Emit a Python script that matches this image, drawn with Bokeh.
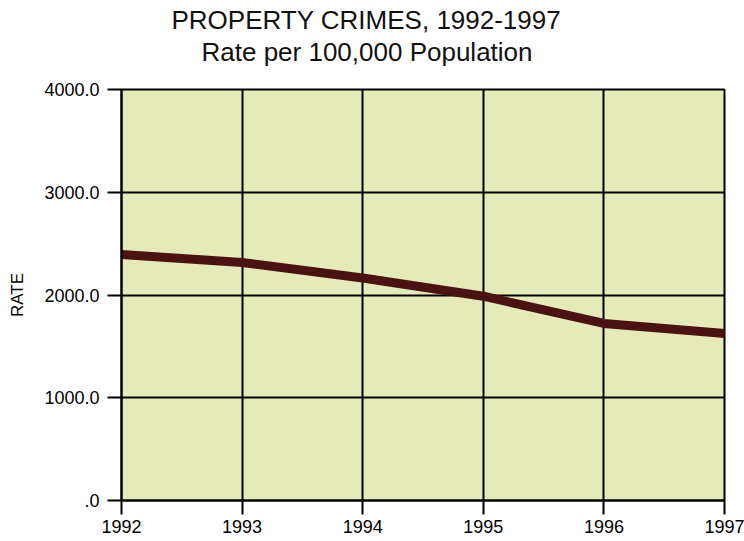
from bokeh.plotting import figure
from bokeh.models import Title, FixedTicker, Range1d
from bokeh.embed import file_html
from bokeh.resources import INLINE

# ---- data ----
years = [1992, 1993, 1994, 1995, 1996, 1997]
rates = [2395, 2316, 2165, 1988, 1723, 1625]
y_ticks = [0, 1000, 2000, 3000, 4000]
y_tick_labels = [".0", "1000.0", "2000.0", "3000.0", "4000.0"]
title_lines = ["PROPERTY CRIMES, 1992-1997", "Rate per 100,000 Population"]
y_label = "RATE"

FONT = "Liberation Sans"
BG = "#e4ebb9"
LINE = "#4a1212"

p = figure(width=744, height=541, output_backend="svg", toolbar_location=None,
           x_range=Range1d(1992, 1997), y_range=Range1d(0, 4000),
           min_border_left=121, min_border_right=20, min_border_top=89,
           min_border_bottom=41)
p.background_fill_color = BG
p.border_fill_color = "white"
p.outline_line_color = "black"
p.outline_line_width = 2

for ax in (p.xaxis, p.yaxis):
    ax.axis_line_color = "black"
    ax.axis_line_width = 2
    ax.major_tick_line_color = "black"
    ax.major_tick_line_width = 2
    ax.major_tick_in = 0
    ax.minor_tick_line_color = None
    ax.major_label_text_font = FONT
    ax.major_label_text_color = "black"

p.xaxis.ticker = FixedTicker(ticks=years)
p.xaxis.major_tick_out = 14
p.xaxis.major_label_standoff = 5
p.xaxis.major_label_text_font_size = "18px"

p.yaxis.ticker = FixedTicker(ticks=y_ticks)
p.yaxis.major_label_overrides = {t: l for t, l in zip(y_ticks, y_tick_labels)}
p.yaxis.major_tick_out = 14
p.yaxis.major_label_standoff = 8
p.yaxis.major_label_text_font_size = "18px"
p.yaxis.axis_label = y_label
p.yaxis.axis_label_text_font = FONT
p.yaxis.axis_label_text_color = "black"
p.yaxis.axis_label_text_font_style = "normal"
p.yaxis.axis_label_text_font_size = "17px"
p.yaxis.axis_label_standoff = 14

for g in (p.xgrid, p.ygrid):
    g.grid_line_color = "black"
    g.grid_line_width = 2
    g.grid_line_alpha = 1
p.xgrid.ticker = FixedTicker(ticks=years)
p.ygrid.ticker = FixedTicker(ticks=y_ticks)

p.line(years, rates, line_color=LINE, line_width=9, line_cap="square")

# titles: innermost (closest to frame) first
p.add_layout(Title(text=title_lines[1], align="left", offset=80, standoff=45,
                   text_font=FONT, text_font_size="26px", text_font_style="normal",
                   text_color="#111111"), "above")
p.add_layout(Title(text=title_lines[0], align="left", offset=50, standoff=-45,
                   text_font=FONT, text_font_size="26px", text_font_style="normal",
                   text_color="#111111"), "above")

open("out.html", "w").write(file_html(p, INLINE))
